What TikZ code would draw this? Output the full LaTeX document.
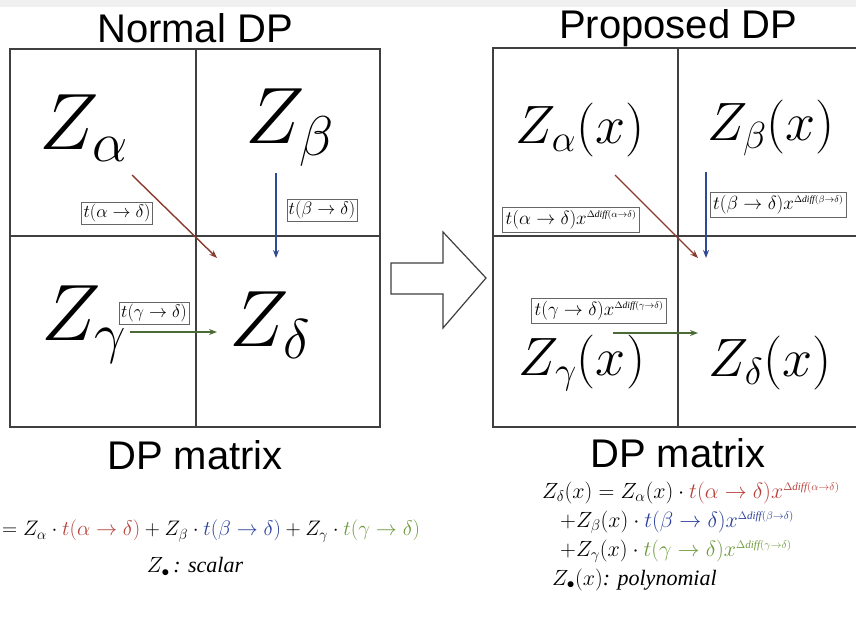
\RequirePackage{fix-cm}
\documentclass[tikz,border=0pt]{standalone}
\usepackage{fontspec}
\setmainfont{Liberation Serif}
\setsansfont{Liberation Sans}
\usetikzlibrary{arrows.meta}

\definecolor{arrowred}{HTML}{8A3B2E}
\definecolor{arrowblue}{HTML}{2E4A93}
\definecolor{arrowgreen}{HTML}{4B6A36}
\definecolor{textred}{HTML}{B8403A}
\definecolor{textblue}{HTML}{2A3F9A}
\definecolor{textgreen}{HTML}{6E9A3E}

\begin{document}
\begin{tikzpicture}[
    x=1pt, y=-1pt,
    title/.style={font=\sffamily\fontsize{40}{40}\selectfont},
    bigz/.style={font=\fontsize{80}{80}\selectfont},
    midz/.style={font=\fontsize{54}{54}\selectfont},
    tlabel/.style={draw=black!60, fill=white, inner sep=2pt, font=\fontsize{18}{18}\selectfont},
    xlabel/.style={draw=black!60, fill=white, inner sep=3pt, font=\fontsize{19}{19}\selectfont},
    formula/.style={inner sep=0pt, font=\fontsize{22}{22}\selectfont},
    grid/.style={draw=black!75, line width=1.2pt},
    arrow/.style={-{Stealth[length=8pt, width=6pt]}, line width=1.4pt}
  ]
    \useasboundingbox (0,0) rectangle (856,627);
    \clip (0,0) rectangle (856,627);
    \fill[black!6] (0,0) rectangle (856,7);

    \node[title] (normal)   at (195,28) {Normal DP};
    \node[title] (proposed) at (678,28) {Proposed DP};

    \draw[grid] (10,49) rectangle (380,427);
    \draw[grid] (196,49) -- (196,427);
    \draw[grid] (10,236) -- (380,236);

    \draw[grid] (870,48) -- (493,48) -- (493,427) -- (870,427);
    \draw[grid] (678,48) -- (678,427);
    \draw[grid] (493,236) -- (870,236);

    \node[bigz] (za) at (84,128) {$Z_\alpha$};
    \node[bigz] (zb) at (290,128) {$Z_\beta$};
    \node[bigz] (zg) at (84,325) {$Z_\gamma$};
    \node[bigz] (zd) at (270,325) {$Z_\delta$};

    \node[midz] (pza) at (580,130) {$Z_\alpha(x)$};
    \node[midz] (pzb) at (771,128) {$Z_\beta(x)$};
    \node[midz] (pzg) at (582,363) {$Z_\gamma(x)$};
    \node[midz] (pzd) at (770,363) {$Z_\delta(x)$};

    \coordinate (ra1) at (132,175);
    \coordinate (ra2) at (217,258);
    \coordinate (rb1) at (276,173);
    \coordinate (rb2) at (276,258);
    \coordinate (rg1) at (130,332);
    \coordinate (rg2) at (217,332);
    \draw[arrow, arrowred]   (ra1) -- (ra2);
    \draw[arrow, arrowblue]  (rb1) -- (rb2);
    \draw[arrow, arrowgreen] (rg1) -- (rg2);

    \coordinate (pa1) at (615,175);
    \coordinate (pa2) at (698,258);
    \coordinate (pb1) at (706,172);
    \coordinate (pb2) at (706,258);
    \coordinate (pg1) at (613,333);
    \coordinate (pg2) at (698,333);
    \draw[arrow, arrowred]   (pa1) -- (pa2);
    \draw[arrow, arrowblue]  (pb1) -- (pb2);
    \draw[arrow, arrowgreen] (pg1) -- (pg2);

    \node[tlabel] (la) at (117,213) {$t(\alpha\to\delta)$};
    \node[tlabel] (lb) at (322,210) {$t(\beta\to\delta)$};
    \node[tlabel] (lg) at (154,313) {$t(\gamma\to\delta)$};

    \node[xlabel] (xa) at (571,220) {$t(\alpha\to\delta)x^{\scriptscriptstyle\Delta\mathit{diff}(\alpha\to\delta)}$};
    \node[xlabel, anchor=west] (xb) at (710,205) {$t(\beta\to\delta)x^{\scriptscriptstyle\Delta\mathit{diff}(\beta\to\delta)}$};
    \node[xlabel] (xg) at (599,311) {$t(\gamma\to\delta)x^{\scriptscriptstyle\Delta\mathit{diff}(\gamma\to\delta)}$};

    \draw[draw=black!75, line width=1.2pt, fill=white]
      (391,263) -- (443,263) -- (443,232) -- (486,278) -- (443,328) -- (443,294) -- (391,294) -- cycle;

    \node[title] (lmat) at (195,455) {DP matrix};
    \node[title] (rmat) at (678,453) {DP matrix};

    \node[formula, anchor=west, font=\fontsize{21}{21}\selectfont] (lsum) at (2,531)
      {$=Z_\alpha\cdot\textcolor{textred}{t(\alpha\to\delta)}+Z_\beta\cdot\textcolor{textblue}{t(\beta\to\delta)}+Z_\gamma\cdot\textcolor{textgreen}{t(\gamma\to\delta)}$};
    \node[formula] (lnote) at (195,567) {$Z_\bullet$\,\textit{: scalar}};

    \node[formula, anchor=west] (rsum1) at (542,493)
      {$Z_\delta(x)=Z_\alpha(x)\cdot\textcolor{textred}{t(\alpha\to\delta)x^{\scriptscriptstyle\Delta\mathit{diff}(\alpha\to\delta)}}$};
    \node[formula, anchor=west] (rsum2) at (560,522)
      {$+Z_\beta(x)\cdot\textcolor{textblue}{t(\beta\to\delta)x^{\scriptscriptstyle\Delta\mathit{diff}(\beta\to\delta)}}$};
    \node[formula, anchor=west] (rsum3) at (560,551)
      {$+Z_\gamma(x)\cdot\textcolor{textgreen}{t(\gamma\to\delta)x^{\scriptscriptstyle\Delta\mathit{diff}(\gamma\to\delta)}}$};
    \node[formula, anchor=west] (rnote) at (552,580) {$Z_\bullet(x)$\textit{: polynomial}};
  \end{tikzpicture}
\end{document}
